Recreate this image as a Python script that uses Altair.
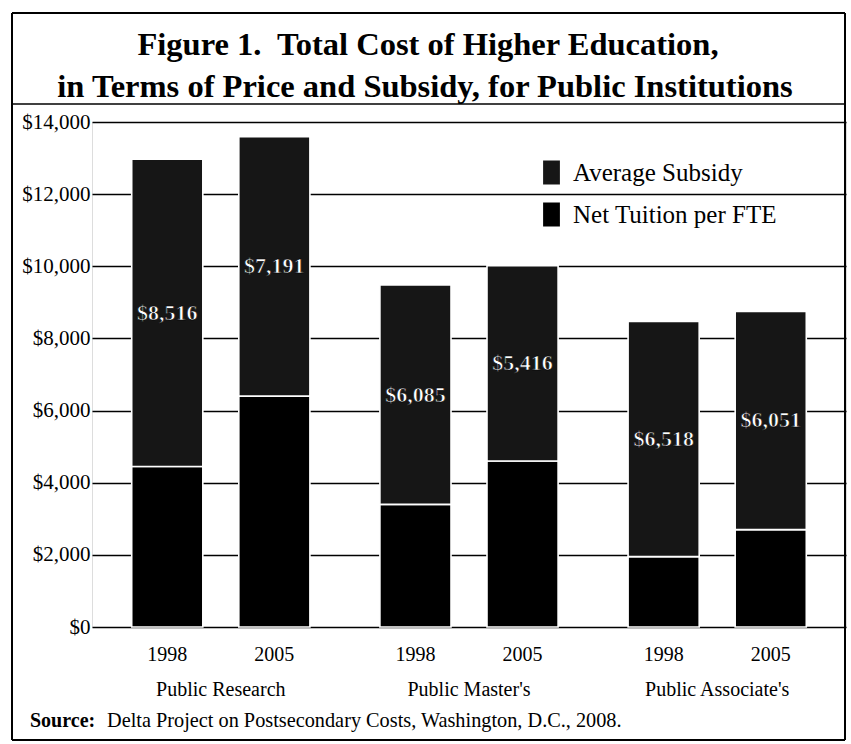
import altair as alt
import pandas as pd

groups = ["Public Research", "Public Research", "Public Master's", "Public Master's",
          "Public Associate's", "Public Associate's"]
years = ["1998", "2005", "1998", "2005", "1998", "2005"]
subsidy = [8516, 7191, 6085, 5416, 6518, 6051]
tuition = [4450, 6400, 3400, 4600, 1950, 2700]
group_order = ["Public Research", "Public Master's", "Public Associate's"]
series = ["Average Subsidy", "Net Tuition per FTE"]
y_ticks = [0, 2000, 4000, 6000, 8000, 10000, 12000, 14000]

title_line1 = "Figure 1.\u00a0 Total Cost of Higher Education,"
title_line2 = "in Terms of Price and Subsidy, for Public Institutions"
source_label = "Source:"
source_text = "Delta Project on Postsecondary Costs, Washington, D.C., 2008."

rows = []
for g, yr, s, t in zip(groups, years, subsidy, tuition):
    rows.append({"group": g, "year": yr, "series": series[1], "value": t, "order": 0})
    rows.append({"group": g, "year": yr, "series": series[0], "value": s, "order": 1})
long_df = pd.DataFrame(rows)
wide_df = pd.DataFrame({"group": groups, "year": years, "subsidy": subsidy, "tuition": tuition})

W, H = 754, 505
SERIF = "Liberation Serif"

x_enc = alt.X("group:N", sort=group_order,
              scale=alt.Scale(paddingInner=0.282, paddingOuter=0.16),
              axis=alt.Axis(title=None, labelAngle=0, domain=False, ticks=False,
                            labelPadding=52, labelFont=SERIF, labelFontSize=20,
                            labelColor="black", grid=False))
xoff_enc = alt.XOffset("year:N", scale=alt.Scale(paddingInner=0.336, paddingOuter=0))

bars = alt.Chart(long_df).mark_bar(stroke="white", strokeWidth=1.6).encode(
    x=x_enc,
    xOffset=xoff_enc,
    y=alt.Y("value:Q", stack="zero",
            scale=alt.Scale(domain=[0, 14000], nice=False),
            axis=alt.Axis(title=None, values=y_ticks, format="$,.0f", domain=False,
                          ticks=False, labelPadding=2, labelFont=SERIF,
                          labelFontSize=21, labelColor="black",
                          grid=True, gridColor="black", gridWidth=1.3, gridOpacity=1)),
    color=alt.Color("series:N",
                    scale=alt.Scale(domain=series, range=["#161616", "#000000"]),
                    legend=alt.Legend(orient="none", legendX=447, legendY=38, title=None,
                                      labelFont=SERIF, labelFontSize=25, labelColor="black",
                                      labelLimit=0,
                                      symbolType="M-0.7,-1H0.7V1H-0.7Z", symbolSize=576,
                                      symbolStrokeWidth=0, symbolOpacity=1,
                                      labelOffset=9, rowPadding=16, padding=0)),
    order=alt.Order("order:Q"),
)

labels = alt.Chart(wide_df).transform_calculate(
    mid="datum.tuition + datum.subsidy / 2",
    lab="'$' + format(datum.subsidy, ',')",
).mark_text(font=SERIF, fontSize=22, fontWeight="bold", color="white",
            stroke="black", strokeWidth=0.6, baseline="middle").encode(
    x=alt.X("group:N", sort=group_order),
    xOffset=alt.XOffset("year:N"),
    y=alt.Y("mid:Q"),
    text="lab:N",
)

year_text = alt.Chart(wide_df).mark_text(font=SERIF, fontSize=20, color="black",
                                         baseline="middle").encode(
    x=alt.X("group:N", sort=group_order),
    xOffset=alt.XOffset("year:N"),
    y=alt.value(H + 28),
    text="year:N",
)

one = pd.DataFrame({"k": [0]})
src1 = alt.Chart(one).mark_text(font=SERIF, fontSize=20, fontWeight="bold", color="black",
                                align="left", baseline="middle").encode(
    x=alt.value(-62), y=alt.value(H + 94), text=alt.value(source_label))
src2 = alt.Chart(one).mark_text(font=SERIF, fontSize=20.3, color="black",
                                align="left", baseline="middle").encode(
    x=alt.value(15), y=alt.value(H + 94), text=alt.value(source_text))

t1 = alt.Chart(one).mark_text(font=SERIF, fontSize=32.5, fontWeight="bold", color="black",
                              align="center", baseline="alphabetic").encode(
    x=alt.value(336), y=alt.value(-67), text=alt.value(title_line1))
t2 = alt.Chart(one).mark_text(font=SERIF, fontSize=32.5, fontWeight="bold", color="black",
                              align="center", baseline="alphabetic").encode(
    x=alt.value(333), y=alt.value(-25), text=alt.value(title_line2))

FL, FR, FT, FB = -80, 753, -109, 618
frame_style = dict(color="black", strokeWidth=2)
f_left = alt.Chart(one).mark_rule(**frame_style).encode(x=alt.value(FL), y=alt.value(FT), y2=alt.value(FB))
f_right = alt.Chart(one).mark_rule(**frame_style).encode(x=alt.value(FR), y=alt.value(FT), y2=alt.value(FB))
f_top = alt.Chart(one).mark_rule(**frame_style).encode(x=alt.value(FL), x2=alt.value(FR), y=alt.value(FT))
f_bot = alt.Chart(one).mark_rule(**frame_style).encode(x=alt.value(FL), x2=alt.value(FR), y=alt.value(FB))
f_title = alt.Chart(one).mark_rule(color="black", strokeWidth=1.5).encode(
    x=alt.value(FL), x2=alt.value(FR), y=alt.value(-18))

chart = alt.layer(
    bars, labels, year_text, src1, src2, t1, t2,
    f_left, f_right, f_top, f_bot, f_title
).properties(
    width=W, height=H,
    autosize=alt.AutoSizeParams(type="none"),
    padding={"left": 92, "top": 122, "right": 5, "bottom": 117},
).configure_view(stroke=None).configure(background="white")

chart.save("out.html", embed_options={"renderer": "svg", "actions": False})
